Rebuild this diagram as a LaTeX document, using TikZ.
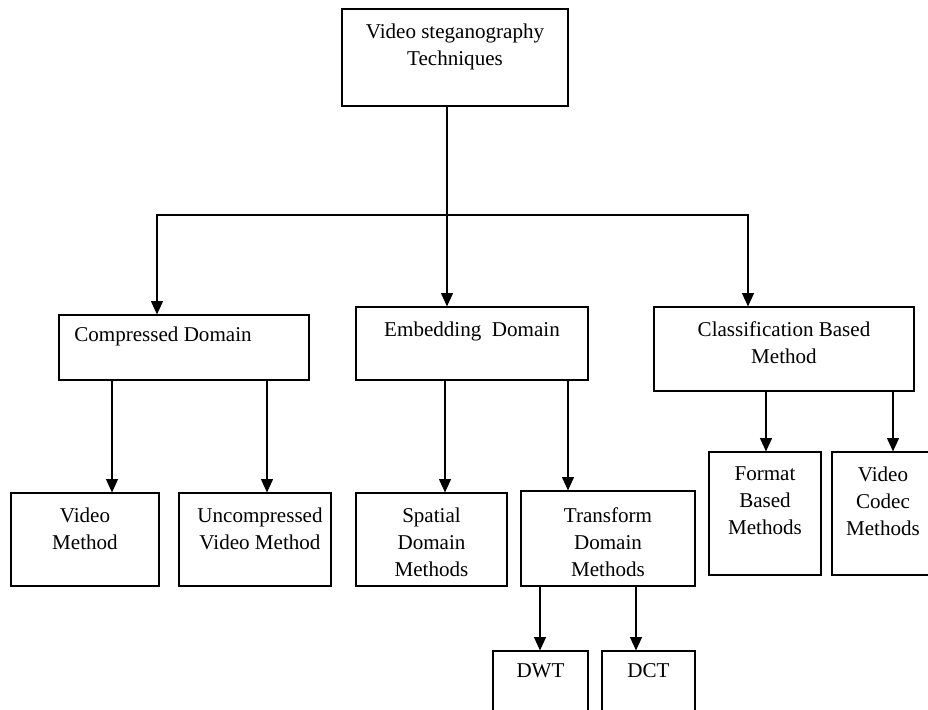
\documentclass[tikz,border=0pt]{standalone}
\usepackage{fontspec}
\setmainfont{Liberation Serif}
\usetikzlibrary{arrows.meta}

\begin{document}
\begin{tikzpicture}[
  x=0.75pt,y=-0.75pt,
  box/.style={draw,line width=0.9pt,inner sep=0pt},
  txt/.style={anchor=north,inner sep=0pt,align=center,yshift=-11.25pt,
              font=\fontsize{15.8}{20.3}\selectfont},
  flow/.style={-{Triangle[length=10pt,width=9pt]},line width=0.9pt}
]
\useasboundingbox (0,0) rectangle (928,710);
% root
\node[box,minimum width=169.5pt,minimum height=72.75pt,
      label={[txt]north:Video steganography\\Techniques}] (top) at (455,57.5) {};
% second level
\node[box,minimum width=187.5pt,minimum height=48.75pt,
      label={[txt,xshift=-15.75pt,yshift=2pt]north:Compressed Domain}] (comp) at (184,347.5) {};
\node[box,minimum width=174pt,minimum height=54.75pt,
      label={[txt]north:Embedding~~Domain}] (emb) at (472,343.5) {};
\node[box,minimum width=195pt,minimum height=63pt,
      label={[txt]north:Classification Based\\Method}] (cls) at (784,349) {};
% third level
\node[box,minimum width=111pt,minimum height=69.75pt,
      label={[txt]north:Video\\Method}] (vid) at (85,539.5) {};
\node[box,minimum width=114pt,minimum height=69.75pt,
      label={[txt,xshift=3.75pt]north:Uncompressed\\Video Method}] (unc) at (255,539.5) {};
\node[box,minimum width=113.25pt,minimum height=69.75pt,
      label={[txt]north:Spatial\\Domain\\Methods}] (spa) at (431.5,539.5) {};
\node[box,minimum width=130.5pt,minimum height=71.25pt,
      label={[txt,yshift=-1.5pt]north:Transform\\Domain\\Methods}] (tra) at (608,538.5) {};
\node[box,minimum width=84pt,minimum height=92.25pt,
      label={[txt]north:Format\\Based\\Methods}] (fmt) at (765,513.5) {};
\node[box,minimum width=76.5pt,minimum height=92.25pt,
      label={[txt]north:Video\\Codec\\Methods}] (codec) at (883,513.5) {};
% fourth level
\node[box,minimum width=71.25pt,minimum height=59.25pt,
      label={[txt,yshift=1.5pt]north:DWT}] (dwt) at (540.5,690.5) {};
\node[box,minimum width=69.75pt,minimum height=59.25pt,
      label={[txt,yshift=1.5pt]north:DCT}] (dct) at (648.5,690.5) {};

\coordinate (hub) at (447,215);
\draw[line width=0.9pt] ([xshift=-6pt]top.south) -- (hub);
\draw[flow] (hub) -| ([xshift=-20.25pt]comp.north);
\draw[flow] (hub) -- (hub |- emb.north);
\draw[flow] (hub) -| ([xshift=-27pt]cls.north);

\draw[flow] ([xshift=-54pt]comp.south) -- ([xshift=-54pt]comp.south |- vid.north);
\draw[flow] ([xshift=62.25pt]comp.south) -- ([xshift=62.25pt]comp.south |- unc.north);
\draw[flow] ([xshift=-20.25pt]emb.south) -- ([xshift=-20.25pt]emb.south |- spa.north);
\draw[flow] ([xshift=72pt]emb.south) -- ([xshift=72pt]emb.south |- tra.north);
\draw[flow] ([xshift=-13.5pt]cls.south) -- ([xshift=-13.5pt]cls.south |- fmt.north);
\draw[flow] ([xshift=81.75pt]cls.south) -- ([xshift=81.75pt]cls.south |- codec.north);
\draw[flow] ([xshift=-51pt]tra.south) -- ([xshift=-51pt]tra.south |- dwt.north);
\draw[flow] ([xshift=21pt]tra.south) -- ([xshift=21pt]tra.south |- dct.north);
\end{tikzpicture}
\end{document}
